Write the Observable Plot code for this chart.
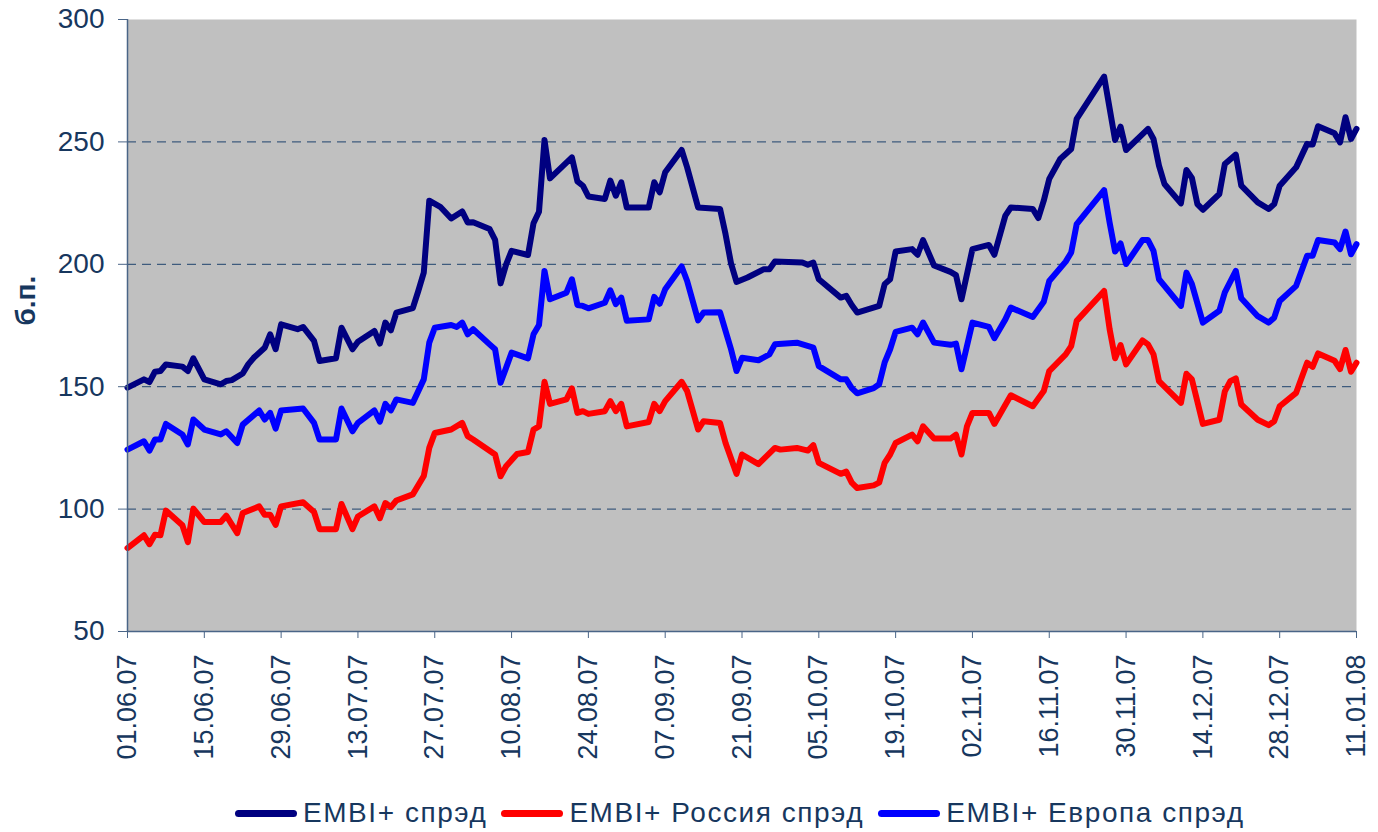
<!DOCTYPE html>
<html>
<head>
<meta charset="utf-8">
<script src="https://cdn.jsdelivr.net/npm/d3@7"></script>
<script src="https://cdn.jsdelivr.net/npm/@observablehq/plot@0.6"></script>
<style>
  html, body { margin: 0; padding: 0; background: #fff; }
  #wrap { position: relative; width: 1378px; height: 832px; overflow: hidden; font-family: "Liberation Sans", Arial, sans-serif; }
  #chart svg { display: block; }
  #legend { position: absolute; left: 235px; top: 794px; height: 38px; display: flex; align-items: center; white-space: nowrap; }
  .item { display: flex; align-items: center; margin-right: 14px; }
  .sw { width: 62px; height: 7px; border-radius: 4px; margin-right: 6px; }
  .lab { font-size: 28px; color: #17375E; line-height: 38px; letter-spacing: 1.55px; }
</style>
</head>
<body>
<div id="wrap">
  <div id="chart"></div>
  <div id="legend"></div>
</div>
<script>
// ---------- data ----------
const seriesNames = ["EMBI+ спрэд", "EMBI+ Россия спрэд", "EMBI+ Европа спрэд"];
const seriesColors = ["#000080", "#FF0000", "#0000FF"];

const yTicks = [50, 100, 150, 200, 250, 300];
const gridValues = [100, 150, 200, 250];
const xTickDates = ["2007-06-01","2007-06-15","2007-06-29","2007-07-13","2007-07-27","2007-08-10","2007-08-24","2007-09-07","2007-09-21","2007-10-05","2007-10-19","2007-11-02","2007-11-16","2007-11-30","2007-12-14","2007-12-28","2008-01-11"];

const embiDates = ["2007-06-01","2007-06-04","2007-06-05","2007-06-06","2007-06-07","2007-06-08","2007-06-11","2007-06-12","2007-06-13","2007-06-15","2007-06-18","2007-06-19","2007-06-20","2007-06-22","2007-06-23","2007-06-24","2007-06-26","2007-06-27","2007-06-28","2007-06-29","2007-07-02","2007-07-03","2007-07-05","2007-07-06","2007-07-09","2007-07-10","2007-07-12","2007-07-13","2007-07-16","2007-07-17","2007-07-18","2007-07-19","2007-07-20","2007-07-23","2007-07-24","2007-07-25","2007-07-26","2007-07-28","2007-07-30","2007-08-01","2007-08-02","2007-08-03","2007-08-06","2007-08-07","2007-08-08","2007-08-09","2007-08-10","2007-08-13","2007-08-14","2007-08-15","2007-08-16","2007-08-17","2007-08-21","2007-08-22","2007-08-23","2007-08-24","2007-08-27","2007-08-28","2007-08-29","2007-08-30","2007-08-31","2007-09-04","2007-09-05","2007-09-06","2007-09-07","2007-09-10","2007-09-11","2007-09-13","2007-09-17","2007-09-18","2007-09-19","2007-09-20","2007-09-22","2007-09-25","2007-09-26","2007-09-27","2007-10-02","2007-10-03","2007-10-04","2007-10-05","2007-10-09","2007-10-10","2007-10-11","2007-10-12","2007-10-16","2007-10-17","2007-10-18","2007-10-19","2007-10-22","2007-10-23","2007-10-24","2007-10-26","2007-10-29","2007-10-30","2007-10-31","2007-11-02","2007-11-05","2007-11-06","2007-11-08","2007-11-09","2007-11-13","2007-11-14","2007-11-15","2007-11-16","2007-11-18","2007-11-20","2007-11-21","2007-11-26","2007-11-28","2007-11-29","2007-11-30","2007-12-04","2007-12-05","2007-12-06","2007-12-07","2007-12-10","2007-12-11","2007-12-12","2007-12-13","2007-12-14","2007-12-17","2007-12-18","2007-12-20","2007-12-21","2007-12-24","2007-12-26","2007-12-27","2007-12-28","2007-12-31","2008-01-02","2008-01-03","2008-01-04","2008-01-07","2008-01-08","2008-01-09","2008-01-10","2008-01-11"];
const embiValues = [149.6,153,151.9,156.1,156.4,159.1,158.2,156.4,161.6,153,151,152.3,152.7,155.4,159.1,161.8,165.9,171.4,165.3,175.5,173.5,174.4,168.7,160.5,161.6,174.1,165.3,168.4,172.8,167.6,176.2,173,180.3,182.1,189.1,196.6,226,223.5,218.7,221.6,217.1,217.2,214.4,210,192.2,199.9,205.5,203.8,216.8,221.5,250.8,235.1,243.7,233.9,232.1,227.7,226.7,234.2,228,233.5,223.2,223.2,233.5,229.4,237.6,246.7,239.6,223.2,222.6,212.3,200.4,192.8,194.6,198,198,201.1,200.7,199.8,200.7,193.9,186.4,187.1,183.4,180.3,183,191.9,193.9,205.2,206.2,203.9,209.9,199.5,196.9,195.6,185.7,206.2,207.9,203.9,219.9,223.2,222.6,218.9,226,234.9,243,247.1,259.4,276.7,250.8,256.2,246.7,255.3,251.2,240.3,232.8,224.9,238.5,235.3,224.6,222.3,228.7,241,244.8,232.1,225.3,222.6,224.6,232.1,239.6,249.2,248.9,256.4,253.5,249.8,260.1,251.2,255.3];

const russiaDates = ["2007-06-01","2007-06-04","2007-06-05","2007-06-06","2007-06-07","2007-06-08","2007-06-11","2007-06-12","2007-06-13","2007-06-15","2007-06-18","2007-06-19","2007-06-21","2007-06-22","2007-06-25","2007-06-26","2007-06-27","2007-06-28","2007-06-29","2007-07-03","2007-07-05","2007-07-06","2007-07-09","2007-07-10","2007-07-12","2007-07-13","2007-07-16","2007-07-17","2007-07-18","2007-07-19","2007-07-20","2007-07-23","2007-07-25","2007-07-26","2007-07-27","2007-07-30","2007-08-01","2007-08-02","2007-08-03","2007-08-07","2007-08-08","2007-08-09","2007-08-11","2007-08-13","2007-08-14","2007-08-15","2007-08-16","2007-08-17","2007-08-20","2007-08-21","2007-08-22","2007-08-23","2007-08-24","2007-08-27","2007-08-28","2007-08-29","2007-08-30","2007-08-31","2007-09-04","2007-09-05","2007-09-06","2007-09-07","2007-09-10","2007-09-11","2007-09-13","2007-09-14","2007-09-17","2007-09-18","2007-09-20","2007-09-21","2007-09-24","2007-09-27","2007-09-28","2007-10-01","2007-10-03","2007-10-04","2007-10-05","2007-10-09","2007-10-10","2007-10-11","2007-10-12","2007-10-15","2007-10-16","2007-10-17","2007-10-18","2007-10-19","2007-10-22","2007-10-23","2007-10-24","2007-10-26","2007-10-29","2007-10-30","2007-10-31","2007-11-01","2007-11-02","2007-11-05","2007-11-06","2007-11-09","2007-11-13","2007-11-15","2007-11-16","2007-11-19","2007-11-20","2007-11-21","2007-11-26","2007-11-27","2007-11-28","2007-11-29","2007-11-30","2007-12-03","2007-12-04","2007-12-05","2007-12-06","2007-12-10","2007-12-11","2007-12-12","2007-12-14","2007-12-17","2007-12-18","2007-12-19","2007-12-20","2007-12-21","2007-12-24","2007-12-26","2007-12-27","2007-12-28","2007-12-31","2008-01-02","2008-01-03","2008-01-04","2008-01-07","2008-01-08","2008-01-09","2008-01-10","2008-01-11"];
const russiaValues = [84.1,89.3,85.7,89.5,89.3,99.4,93.4,86.5,100.2,94.7,94.7,97.3,90.2,98.4,101.1,97.7,97.7,93.6,101.1,102.8,98.8,91.8,91.8,102.1,91.8,97,101.1,96.3,102.5,100.8,103.5,106,113.5,125,131.1,132.5,135.2,129.8,128.4,122.3,113.4,117.5,122.5,123.3,132.5,133.8,152,143,144.8,149.3,139.3,140,138.9,140,144.1,140,143,133.8,135.6,143,140,144.1,152,148.2,132.5,135.9,135.2,127,114.4,122.3,118.4,125,124.3,125,123.9,126.1,118.9,114.4,115.3,110.8,108.6,109.7,110.8,118.9,122.3,127,130.4,127.7,133.8,128.8,128.8,130.4,122.3,133.8,139.3,139.3,134.8,146.5,142,148.2,156.4,163.2,166.6,176.9,189.1,173.5,161.6,167,159.1,168.9,167.3,163.2,152.3,143.4,155.3,153,134.8,136.5,148.1,152.3,153.4,142.7,136.5,134.3,135.9,142,147.5,159.8,158.1,163.6,160.6,157.2,165,156.1,159.8];

const europeDates = ["2007-06-01","2007-06-04","2007-06-05","2007-06-06","2007-06-07","2007-06-08","2007-06-11","2007-06-12","2007-06-13","2007-06-15","2007-06-18","2007-06-19","2007-06-21","2007-06-22","2007-06-25","2007-06-26","2007-06-27","2007-06-28","2007-06-29","2007-07-03","2007-07-05","2007-07-06","2007-07-09","2007-07-10","2007-07-12","2007-07-13","2007-07-16","2007-07-17","2007-07-18","2007-07-19","2007-07-20","2007-07-23","2007-07-25","2007-07-26","2007-07-27","2007-07-30","2007-07-31","2007-08-01","2007-08-02","2007-08-03","2007-08-06","2007-08-07","2007-08-08","2007-08-09","2007-08-10","2007-08-13","2007-08-14","2007-08-15","2007-08-16","2007-08-17","2007-08-20","2007-08-21","2007-08-22","2007-08-23","2007-08-24","2007-08-27","2007-08-28","2007-08-29","2007-08-30","2007-08-31","2007-09-04","2007-09-05","2007-09-06","2007-09-07","2007-09-10","2007-09-11","2007-09-13","2007-09-14","2007-09-17","2007-09-18","2007-09-19","2007-09-20","2007-09-21","2007-09-24","2007-09-26","2007-09-27","2007-10-01","2007-10-04","2007-10-05","2007-10-09","2007-10-10","2007-10-11","2007-10-12","2007-10-15","2007-10-16","2007-10-17","2007-10-18","2007-10-19","2007-10-22","2007-10-23","2007-10-24","2007-10-26","2007-10-29","2007-10-30","2007-10-31","2007-11-02","2007-11-05","2007-11-06","2007-11-08","2007-11-09","2007-11-13","2007-11-15","2007-11-16","2007-11-19","2007-11-20","2007-11-21","2007-11-26","2007-11-27","2007-11-28","2007-11-29","2007-11-30","2007-12-03","2007-12-04","2007-12-05","2007-12-06","2007-12-10","2007-12-11","2007-12-12","2007-12-14","2007-12-17","2007-12-18","2007-12-20","2007-12-21","2007-12-24","2007-12-26","2007-12-27","2007-12-28","2007-12-31","2008-01-02","2008-01-03","2008-01-04","2008-01-07","2008-01-08","2008-01-09","2008-01-10","2008-01-11"];
const europeValues = [124.3,127.7,123.9,128.4,128.4,134.8,130.5,126.4,136.6,132.5,130.5,131.8,127,134.5,140.3,136.6,139.3,132.9,140.3,141.1,135.2,128.4,128.4,141.1,131.8,135.2,140.3,135.7,143,140.3,144.8,143.4,153,168,174.1,175.2,174.4,176.2,171.4,173.5,167.3,165.3,151.6,157.7,163.9,161.6,171.4,175.2,197.3,185.7,188.4,193.9,183.4,183,182,184.3,189.4,183.7,186.4,176.9,177.5,186.7,183.9,189.8,199.1,193.2,177.1,180.3,180.4,172.8,165.3,156.4,161.8,160.8,163.2,167.3,168,166,158.4,153,153,149.4,147.3,149.4,151,159.9,165.3,172.4,174.1,171.4,176.2,168,167.1,167.6,157.1,176.2,174.4,169.8,177.5,182.3,178.5,184.7,193.2,201.1,204.8,216.4,230.3,217.1,205.2,208.5,200.1,209.9,209.9,205.5,193.9,183,196.6,191.9,176.2,181,188.5,197.3,186.1,178.8,176.2,178.2,185,191.2,203.5,203.5,209.9,208.9,206.2,213.4,204.1,208.2];

// ---------- build ----------
const parse = s => new Date(s + "T00:00:00Z");
const mk = (dates, vals, name) => dates.map((d, i) => ({date: parse(d), value: vals[i], series: name}));
const rows = [
  ...mk(embiDates, embiValues, seriesNames[0]),
  ...mk(russiaDates, russiaValues, seriesNames[1]),
  ...mk(europeDates, europeValues, seriesNames[2])
];

const textColor = "#17375E";
const axisColor = "#4A6587";
const xStart = parse(xTickDates[0]);
const xEnd = parse(xTickDates[xTickDates.length - 1]);
const fmt = d3.utcFormat("%d.%m.%y");

const H = 782;
const chart = Plot.plot({
  width: 1378,
  height: H,
  marginLeft: 127,
  marginRight: 22,
  marginTop: 19,
  marginBottom: H - 631,
  style: {fontFamily: '"Liberation Sans", Arial, sans-serif', background: "transparent", overflow: "visible"},
  x: {type: "utc", domain: [xStart, xEnd]},
  y: {domain: [50, 300]},
  color: {domain: seriesNames, range: seriesColors},
  marks: [
    Plot.frame({fill: "#C0C0C0", stroke: "none"}),
    Plot.ruleY(gridValues, {stroke: "#3E5B7D", strokeWidth: 1.3, strokeDasharray: "9,6"}),
    Plot.line(rows, {x: "date", y: "value", z: "series", stroke: "series", strokeWidth: 6, strokeLinejoin: "round", strokeLinecap: "round", curve: "linear"}),
    Plot.ruleY([50], {stroke: axisColor, strokeWidth: 1.5}),
    Plot.ruleX([xStart], {stroke: axisColor, strokeWidth: 1.5}),
    Plot.axisY({ticks: yTicks, tickSize: 9, tickPadding: 14, fontSize: 28, stroke: axisColor, color: textColor, label: null}),
    Plot.axisX({ticks: xTickDates.map(parse), tickFormat: fmt, tickSize: 7, tickPadding: 16, tickRotate: -90, fontSize: 27, stroke: axisColor, color: textColor, label: null}),
    Plot.text(["б.п."], {frameAnchor: "left", rotate: -90, dx: -101, fontSize: 28, fontWeight: "bold", fill: textColor})
  ]
});
document.getElementById("chart").appendChild(chart);

// legend
const legend = document.getElementById("legend");
seriesNames.forEach((name, i) => {
  const item = document.createElement("div");
  item.className = "item";
  const sw = document.createElement("div");
  sw.className = "sw";
  sw.style.background = seriesColors[i];
  const lab = document.createElement("span");
  lab.className = "lab";
  lab.textContent = name;
  item.appendChild(sw);
  item.appendChild(lab);
  legend.appendChild(item);
});
</script>
</body>
</html>
